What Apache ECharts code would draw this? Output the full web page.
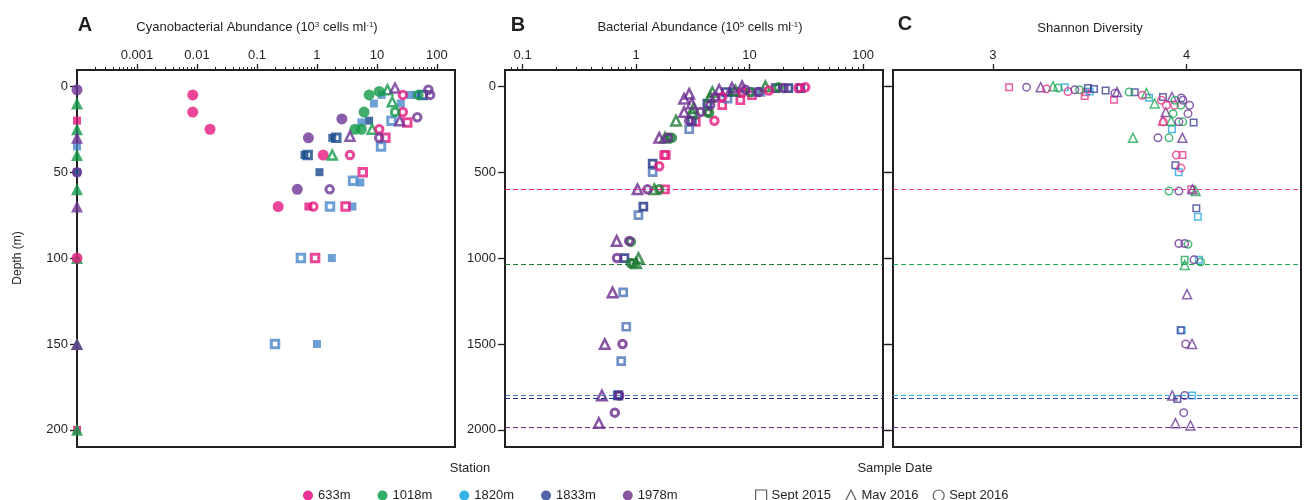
<!DOCTYPE html>
<html>
<head>
<meta charset="utf-8">
<script src="https://cdn.jsdelivr.net/npm/echarts@6/dist/echarts.min.js"></script>
<style>
  html, body { margin: 0; padding: 0; background: #fff; }
  #chart { width: 1307px; height: 500px; }
</style>
</head>
<body>
<div id="chart"></div>
<script>
var stations = ['633m', '1018m', '1820m', '1833m', '1978m'];
var sampleDates = ['Sept 2015', 'May 2016', 'Sept 2016'];

var cyanoTicks = [0.001, 0.01, 0.1, 1, 10, 100];
var cyanoDepthTicks = [0, 50, 100, 150, 200];
var depthTicks = [0, 500, 1000, 1500, 2000];
var shannonTicks = [3, 4];
// depth of the dashed lines, one per station
var stationLineDepths = [600, 1035, 1798, 1816, 1985];

// Panel A: [abundance, depth, station index]  (0.0001 = not detected, drawn on the axis)
var cyanoSep15Solid = [
    [0.0001, 20, 0], [0.0001, 35, 2], [0.0001, 50, 3], [0.0001, 200, 0],
    [8.9, 10, 2], [12, 5, 2], [35, 5, 2], [45, 5, 2], [25, 10, 2], [5.5, 21, 2],
    [7.4, 20, 3], [1.8, 30, 3], [0.62, 40, 3], [1.1, 50, 3], [5.3, 56, 2],
    [0.72, 70, 0], [3.9, 70, 2], [1.77, 100, 2], [1.0, 150, 2]
];
var cyanoSep15Open = [
    [58, 5, 3], [17.5, 20, 2], [32, 21, 0], [13.8, 30, 0], [11.7, 35, 2],
    [2.1, 30, 3], [0.7, 40, 3], [5.8, 50, 0], [4.0, 55, 2], [1.65, 70, 2],
    [3.0, 70, 0], [0.54, 100, 2], [0.93, 100, 0], [0.2, 150, 2]
];
var cyanoMay16Solid = [
    [0.0001, 10, 1], [0.0001, 25, 1], [0.0001, 30, 4], [0.0001, 40, 1], [0.0001, 60, 1],
    [0.0001, 70, 4], [0.0001, 100, 1], [0.0001, 150, 1], [0.0001, 150, 4], [0.0001, 200, 1]
];
var cyanoMay16Open = [
    [15, 2, 1], [20, 1, 4], [18, 9, 1], [24, 20, 4], [8.3, 25, 1], [3.55, 29, 4], [1.8, 40, 1]
];
var cyanoSep16Solid = [
    [0.0001, 2, 4], [0.0001, 100, 0],
    [0.0085, 5, 0], [0.0085, 15, 0], [0.0165, 25, 0],
    [7.4, 5, 1], [10.9, 3, 1], [6.1, 15, 1], [2.6, 19, 4], [4.3, 25, 1], [5.5, 25, 1],
    [0.72, 30, 4], [1.27, 40, 0], [0.47, 60, 4], [0.226, 70, 0]
];
var cyanoSep16Open = [
    [27, 5, 0], [49, 5, 1], [72, 2, 4], [77, 5, 4], [20, 15, 1], [27, 15, 0], [47, 18, 4],
    [10.9, 25, 0], [10.9, 30, 4], [3.55, 40, 0], [1.63, 60, 4], [0.87, 70, 0], [0.0001, 50, 4]
];

// Panel B: [bacterial abundance, depth, station index]
var bactSep15 = [
    [17, 10, 3], [22, 10, 3], [28, 10, 3], [11.4, 33, 2], [12.5, 33, 2], [10.5, 52, 0], [8.3, 81, 0],
    [7.4, 33, 3], [6.2, 33, 3], [5.75, 110, 0], [6.4, 72, 2], [4.25, 100, 3], [3.36, 207, 0],
    [2.94, 250, 2], [3.1, 200, 3], [1.77, 400, 0], [1.83, 400, 0], [1.4, 450, 3], [1.4, 500, 2],
    [1.8, 600, 0], [1.16, 700, 3], [1.05, 750, 2], [0.79, 1000, 3], [0.95, 1030, 1],
    [0.77, 1200, 2], [0.82, 1400, 2], [0.74, 1600, 2], [0.69, 1800, 2], [0.7, 1800, 3]
];
var bactMay16 = [
    [8.6, 0, 4], [13.8, 0, 1], [7.5, 25, 1], [7.0, 8, 4], [5.4, 20, 4], [4.7, 33, 1], [4.5, 62, 1],
    [2.65, 72, 4], [2.94, 44, 4], [3.1, 100, 4], [2.65, 150, 4], [3.2, 128, 1], [3.15, 155, 1],
    [2.25, 200, 1], [1.6, 300, 4], [1.8, 300, 1], [1.03, 600, 4], [1.45, 600, 1], [0.675, 900, 4],
    [1.05, 1000, 1], [1.0, 1030, 1], [0.62, 1200, 4], [0.53, 1500, 4], [0.5, 1800, 4], [0.47, 1960, 4]
];
var bactSep16 = [
    [18, 5, 1], [20, 10, 4], [27, 10, 0], [31, 5, 0], [10.2, 33, 1], [12.0, 33, 4], [14.8, 25, 0],
    [8.7, 35, 0], [9.2, 20, 4], [5.75, 62, 0], [5.0, 62, 4], [4.5, 110, 4], [4.25, 150, 1], [4.4, 155, 1],
    [3.7, 150, 4], [4.9, 200, 0], [2.94, 200, 4], [1.96, 300, 1], [2.07, 300, 1], [1.9, 300, 4],
    [1.6, 465, 0], [1.26, 600, 4], [1.6, 600, 1], [0.87, 900, 4], [0.9, 905, 1], [0.68, 1000, 4],
    [0.9, 1030, 1], [0.76, 1500, 4], [0.71, 1800, 4], [0.65, 1900, 4]
];

// Panel C: [Shannon diversity, depth, station index]
var shannonSep15 = [
    [3.084, 5, 0], [3.371, 5, 2], [3.491, 10, 3], [3.5, 30, 2], [3.48, 35, 0], [3.474, 56, 0],
    [3.522, 15, 3], [3.582, 25, 3], [3.625, 78, 0], [3.732, 35, 3], [3.806, 66, 2], [3.878, 62, 3],
    [4.036, 210, 3], [3.924, 250, 2], [3.978, 400, 0], [3.942, 460, 3], [3.959, 500, 2],
    [4.024, 600, 0], [4.05, 710, 3], [4.058, 760, 2], [3.99, 1010, 1], [4.063, 1010, 2],
    [3.969, 1420, 3], [3.975, 1420, 2], [4.028, 1800, 2], [3.952, 1820, 3]
];
var shannonMay16 = [
    [3.247, 5, 4], [3.311, 0, 1], [3.641, 33, 4], [3.792, 40, 1], [3.835, 100, 1], [3.924, 62, 4],
    [3.892, 150, 4], [3.878, 200, 0], [3.92, 200, 1], [3.723, 300, 1], [3.978, 300, 4],
    [4.03, 600, 4], [4.046, 610, 1], [3.99, 1040, 1], [4.002, 1210, 4], [4.028, 1500, 4],
    [3.926, 1800, 4], [3.942, 1961, 4], [4.02, 1975, 4]
];
var shannonSep16 = [
    [3.174, 5, 4], [3.277, 15, 0], [3.337, 10, 1], [3.388, 30, 0], [3.423, 20, 4], [3.448, 20, 1],
    [3.63, 40, 4], [3.703, 33, 1], [3.771, 52, 0], [3.87, 81, 0], [3.973, 68, 4], [3.981, 81, 4],
    [3.94, 81, 1], [3.895, 110, 0], [3.938, 110, 0], [3.97, 110, 1], [4.015, 110, 4], [3.93, 159, 1],
    [4.007, 159, 4], [3.88, 207, 0], [3.96, 207, 4], [3.98, 207, 1], [3.852, 300, 4], [3.909, 300, 1],
    [3.947, 400, 0], [3.97, 475, 0], [3.909, 610, 1], [3.96, 610, 4], [3.96, 915, 4], [3.99, 915, 4],
    [4.007, 920, 1], [4.038, 1010, 4], [4.072, 1023, 1], [3.995, 1500, 4], [3.99, 1800, 4], [3.985, 1900, 4]
];

var FONT = '"Liberation Sans", Arial, sans-serif';
var INK = '#231f20';
var legendColors = ['#e5007d', '#009a44', '#00a0e2', '#233c90', '#6a2a8a'];
var colorsA = ['#e5197e', '#129a48', '#4a88ca', '#174b8c', '#6b3594'];
var colorsB = ['#e6197f', '#1f7a34', '#4d74b8', '#1b2f7f', '#6a2a8f'];
var colorsC = ['#e6378a', '#20a955', '#2ba8e0', '#3d4197', '#6e3a98'];
var dateSymbols = ['rect', 'triangle', 'circle'];

var series = [];

// one scatter series per station for a given panel / date / fill
function addSeries(panel, data, dateIdx, solid, colors, sizes, border) {
    stations.forEach(function (st, si) {
        var pts = data.filter(function (d) { return d[2] === si; })
                      .map(function (d) { return [d[0], d[1]]; });
        if (!pts.length) return;
        series.push({
            type: 'scatter',
            name: 'p' + panel + ' ' + st + ' ' + sampleDates[dateIdx],
            xAxisIndex: panel,
            yAxisIndex: panel,
            data: pts,
            symbol: dateSymbols[dateIdx],
            symbolSize: sizes[dateIdx],
            clip: false,
            itemStyle: solid
                ? { color: colors[si], borderWidth: 0 }
                : { color: 'rgba(255,255,255,0)', borderColor: colors[si], borderWidth: border },
            emphasis: { disabled: true },
            z: 3
        });
    });
}

var solidSizeA = [8, 12, 11];
var openSizeA = [7.5, 9, 7.5];
addSeries(0, cyanoSep15Solid, 0, true, colorsA, solidSizeA);
addSeries(0, cyanoMay16Solid, 1, true, colorsA, solidSizeA);
addSeries(0, cyanoSep16Solid, 2, true, colorsA, solidSizeA);
addSeries(0, cyanoSep15Open, 0, false, colorsA, openSizeA, 3);
addSeries(0, cyanoMay16Open, 1, false, colorsA, openSizeA, 2.5);
addSeries(0, cyanoSep16Open, 2, false, colorsA, openSizeA, 3);

var sizeB = [7, 9.5, 7.5];
addSeries(1, bactSep15, 0, false, colorsB, sizeB, 2.7);
addSeries(1, bactMay16, 1, false, colorsB, sizeB, 2.5);
addSeries(1, bactSep16, 2, false, colorsB, sizeB, 3);

var sizeC = [6.5, 9, 7.5];
addSeries(2, shannonSep15, 0, false, colorsC, sizeC, 1.5);
addSeries(2, shannonMay16, 1, false, colorsC, sizeC, 1.5);
addSeries(2, shannonSep16, 2, false, colorsC, sizeC, 1.5);

// dashed station-depth lines in B and C
[1, 2].forEach(function (panel) {
    var cols = panel === 1 ? colorsB : colorsC;
    series.push({
        type: 'scatter',
        name: 'lines' + panel,
        xAxisIndex: panel,
        yAxisIndex: panel,
        data: [],
        markLine: {
            silent: true,
            symbol: ['none', 'none'],
            label: { show: false },
            animation: false,
            data: stationLineDepths.map(function (d, i) {
                return { yAxis: d, lineStyle: { color: cols[i], type: [5, 3], width: 1.2 } };
            })
        },
        z: 2
    });
});

// empty series that feed the two legends
stations.forEach(function (st, i) {
    series.push({ type: 'scatter', name: st, data: [], itemStyle: { color: legendColors[i] } });
});
sampleDates.forEach(function (d) {
    series.push({ type: 'scatter', name: d, data: [], itemStyle: { color: '#333' } });
});

function tickStyle(len) {
    return { show: true, length: len, inside: false, lineStyle: { color: INK, width: 1.3 } };
}
var labelStyle = { color: INK, fontSize: 13, fontFamily: FONT };
function plain(v) { return String(v); }

function logX(grid, min, max, ticks) {
    return {
        type: 'log', gridIndex: grid, position: 'top', logBase: 10, min: min, max: max,
        axisLine: { show: false, onZero: false },
        axisTick: Object.assign(tickStyle(6), { customValues: ticks }),
        minorTick: { show: true, splitNumber: 9, length: 3, lineStyle: { color: INK, width: 1 } },
        axisLabel: Object.assign({ margin: 8, customValues: ticks, formatter: plain }, labelStyle),
        splitLine: { show: false }, minorSplitLine: { show: false }
    };
}
function depthY(grid, min, max, ticks, showLabel, pos) {
    return {
        type: 'value', gridIndex: grid, inverse: true, min: min, max: max, position: pos || 'left',
        axisLine: { show: false, onZero: false },
        axisTick: Object.assign(tickStyle(7), { customValues: ticks }),
        axisLabel: Object.assign({ show: showLabel, margin: 9, customValues: ticks, formatter: plain }, labelStyle),
        splitLine: { show: false }
    };
}

var gridBase = { show: true, borderColor: INK, borderWidth: 2, backgroundColor: 'transparent', containLabel: false, outerBoundsMode: 'none' };

var titleRich = {
    t: { fontSize: 13, fontFamily: FONT, fill: INK, color: INK },
    s: { fontSize: 8, fontFamily: FONT, fill: INK, color: INK, verticalAlign: 'top' }
};
function label(x, y, text, extra) {
    return { type: 'text', x: x, y: y, silent: true,
        style: Object.assign({ text: text, fill: INK, font: '13px ' + FONT, align: 'center', verticalAlign: 'middle' }, extra || {}) };
}

var chart = echarts.init(document.getElementById('chart'));
var option = {
    animation: false,
    backgroundColor: '#fff',
    grid: [
        Object.assign({ left: 77, top: 70, width: 378, height: 377 }, gridBase),
        Object.assign({ left: 505, top: 70, width: 378, height: 377 }, gridBase),
        Object.assign({ left: 893, top: 70, width: 408, height: 377 }, gridBase)
    ],
    xAxis: [
        logX(0, 0.0001, 200, cyanoTicks),
        logX(1, 0.07, 150, [0.1, 1, 10, 100]),
        {
            type: 'value', gridIndex: 2, position: 'top', min: 2.485, max: 4.59,
            axisLine: { show: false, onZero: false },
            axisTick: Object.assign(tickStyle(6), { customValues: shannonTicks }),
            axisLabel: Object.assign({ margin: 8, customValues: shannonTicks, formatter: plain }, labelStyle),
            splitLine: { show: false }
        }
    ],
    yAxis: [
        depthY(0, -9.5, 210, cyanoDepthTicks, true),
        depthY(1, -95, 2100, depthTicks, true),
        depthY(2, -95, 2100, depthTicks, false),
        depthY(1, -95, 2100, depthTicks, false, 'right')
    ],
    legend: [
        {
            data: stations.map(function (s, i) {
                return { name: s, icon: 'circle', itemStyle: { color: legendColors[i] } };
            }),
            left: 298, top: 484, itemWidth: 10, itemHeight: 10, itemGap: 27,
            selectedMode: false,
            textStyle: { color: INK, fontSize: 13, fontFamily: FONT }
        },
        {
            data: sampleDates.map(function (d, i) {
                return { name: d, icon: dateSymbols[i],
                    itemStyle: { color: 'rgba(0,0,0,0)', borderColor: '#333', borderWidth: 1.2 } };
            }),
            left: 750, top: 484, itemWidth: 11, itemHeight: 11, itemGap: 14,
            selectedMode: false,
            textStyle: { color: INK, fontSize: 13, fontFamily: FONT }
        }
    ],
    graphic: [
        label(85, 25, 'A', { font: 'bold 20px ' + FONT }),
        label(518, 25, 'B', { font: 'bold 20px ' + FONT }),
        label(905, 24, 'C', { font: 'bold 20px ' + FONT }),
        label(257, 27, '{t|Cyanobacterial Abundance (10}{s|3}{t| cells ml}{s|-1}{t|)}', { rich: titleRich }),
        label(700, 27, '{t|Bacterial Abundance (10}{s|5}{t| cells ml}{s|-1}{t|)}', { rich: titleRich }),
        label(1090, 28, 'Shannon Diversity'),
        label(18, 258, 'Depth (m)', { font: '12px ' + FONT }),
        label(470, 468, 'Station'),
        label(895, 468, 'Sample Date')
    ],
    series: series
};
// rotate the depth title
option.graphic[6].rotation = Math.PI / 2;
chart.setOption(option);
</script>
</body>
</html>
